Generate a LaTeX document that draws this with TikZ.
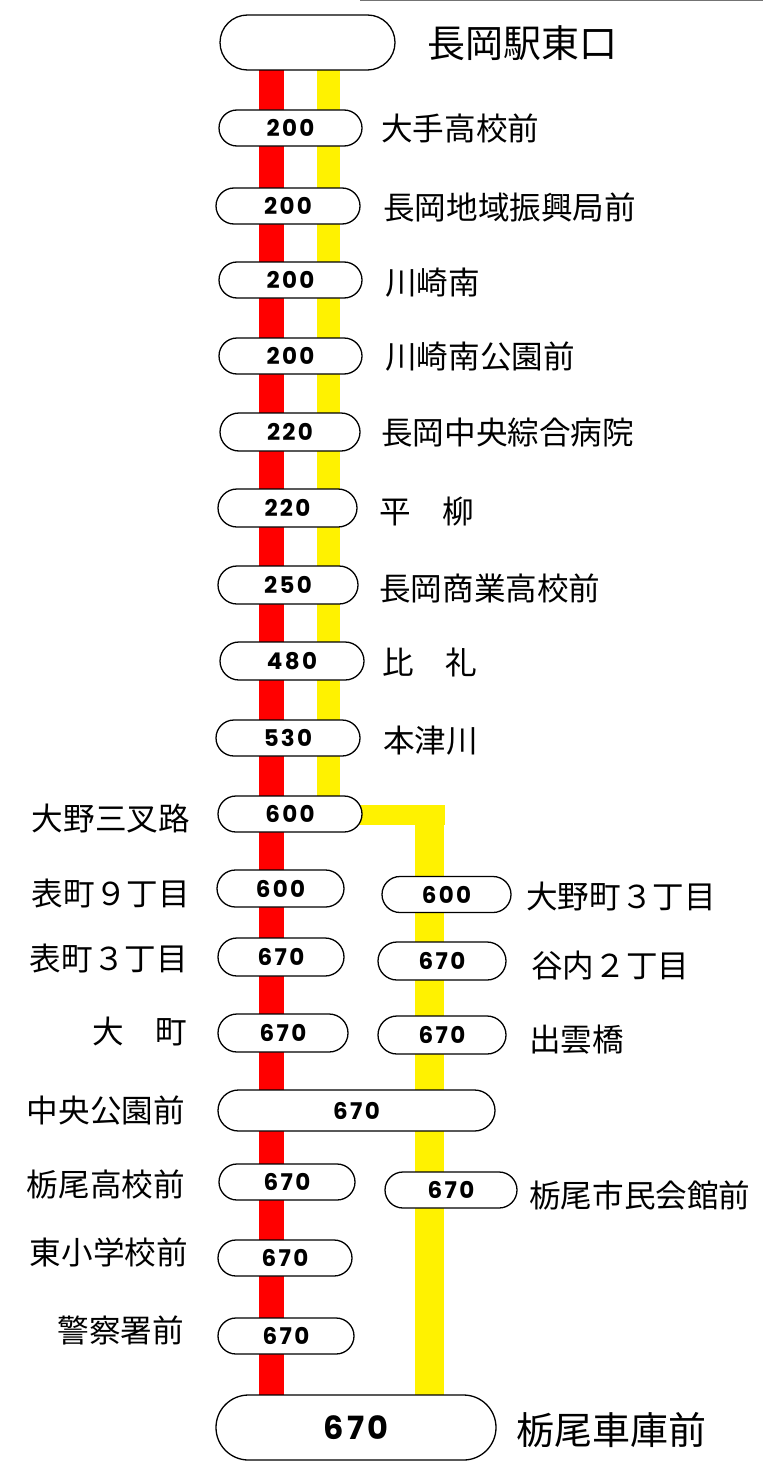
\documentclass[tikz,border=0pt]{standalone}
\usepackage{fontspec}
\setmainfont{Noto Sans CJK JP}
\newfontfamily\farefont[LetterSpace=10]{Poppins}
\usetikzlibrary{shapes.misc}
\tikzset{
	fare/.style={rounded rectangle, draw=black, line width=1.3pt, fill=white, inner sep=0pt, minimum height=36pt, font={\farefont\bfseries\fontsize{23}{23}\selectfont}},
	bigfare/.style={fare, font={\farefont\bfseries\fontsize{32}{32}\selectfont}},
	stopname/.style={inner sep=0pt, font={\fontsize{31.6}{31.6}\selectfont}},
	bigname/.style={inner sep=0pt, anchor=west, font={\fontsize{38}{38}\selectfont}},
	redline/.style={draw=red, line width=25pt},
	yellowline/.style={draw=yellow, line width=#1}
}

\begin{document}
\begin{tikzpicture}[x=1pt, y=-1pt]
			%%%%% START %%%%%
			\useasboundingbox (0, 0) rectangle (763, 1461);
			\draw[line width=1pt, color=black!55] (360, 0.5) -- (763, 0.5);
			
			% line ends
			\coordinate (rtop) at (271.5, 70);
			\coordinate (rbot) at (271.5, 1395);
			\coordinate (ytop) at (328.5, 70);
			\coordinate (yturn) at (328.5, 815);
			\coordinate (ycorner) at (444.5, 815);
			\coordinate (ybranch) at (429.5, 805);
			\coordinate (ybot) at (429.5, 1395);
			
			\draw[redline] (rtop) -- (rbot);
			\draw[yellowline=23pt] (ytop) -- (yturn);
			\draw[yellowline=20pt] (yturn) -- (ycorner);
			\draw[yellowline=29pt] (ybranch) -- (ybot);
			
			% trunk
			\node[fare, minimum width=175pt, minimum height=55pt] (eki) at (307.5, 42.5) {};
			\node[bigname] (leki) at (427, 43) {長岡駅東口};
			
			\node[fare, minimum width=143pt] (s01) at (290.5, 128) {200};
			\node[stopname, anchor=west] (l01) at (381, 128) {大手高校前};
			\node[fare, minimum width=144pt] (s02) at (288, 206) {200};
			\node[stopname, anchor=west] (l02) at (383, 207) {長岡地域振興局前};
			\node[fare, minimum width=143pt] (s03) at (290.5, 280) {200};
			\node[stopname, anchor=west] (l03) at (385, 283) {川崎南};
			\node[fare, minimum width=143pt] (s04) at (290.5, 356) {200};
			\node[stopname, anchor=west] (l04) at (385, 357) {川崎南公園前};
			\node[fare, minimum width=140pt, minimum height=38pt] (s05) at (290, 432) {220};
			\node[stopname, anchor=west] (l05) at (381, 433) {長岡中央綜合病院};
			\node[fare, minimum width=139pt, minimum height=38pt] (s06) at (287.5, 508) {220};
			\node[stopname, anchor=west] (l06) at (379, 512) {平　柳};
			\node[fare, minimum width=140pt, minimum height=38pt] (s07) at (288, 585) {250};
			\node[stopname, anchor=west] (l07) at (379, 588) {長岡商業高校前};
			\node[fare, minimum width=144pt, minimum height=38pt] (s08) at (292, 661) {480};
			\node[stopname, anchor=west] (l08) at (382, 662) {比　礼};
			\node[fare, minimum width=144pt] (s09) at (288, 738) {530};
			\node[stopname, anchor=west] (l09) at (383, 741) {本津川};
			\node[fare, minimum width=144pt] (s10) at (290, 814) {600};
			\node[stopname, anchor=east] (l10) at (190, 818) {大野三叉路};
			
			% via omachi
			\node[fare, minimum width=127pt, minimum height=37pt] (s11) at (280.5, 888.5) {600};
			\node[stopname, anchor=east] (l11) at (190, 893) {表町９丁目};
			\node[fare, minimum width=126pt, minimum height=38pt] (s12) at (281, 957) {670};
			\node[stopname, anchor=east] (l12) at (188, 958) {表町３丁目};
			\node[fare, minimum width=130pt, minimum height=38pt] (s13) at (283, 1033) {670};
			\node[stopname, anchor=east] (l13) at (187, 1031) {大　町};
			
			% via izumo
			\node[fare, minimum width=129pt] (b1) at (446.5, 894.5) {600};
			\node[stopname, anchor=west] (m1) at (526, 896) {大野町３丁目};
			\node[fare, minimum width=128pt, minimum height=38pt] (b2) at (442, 961) {670};
			\node[stopname, anchor=west] (m2) at (531, 966) {谷内２丁目};
			\node[fare, minimum width=128pt, minimum height=38pt] (b3) at (442, 1035) {670};
			\node[stopname, anchor=west] (m3) at (529, 1040) {出雲橋};
			
			\node[fare, minimum width=277pt, minimum height=41pt] (s14) at (356.5, 1110.5) {670};
			\node[stopname, anchor=east] (l14) at (185, 1110) {中央公園前};
			
			\node[fare, minimum width=136pt] (s15) at (287, 1182) {670};
			\node[stopname, anchor=east] (l15) at (185, 1184) {栃尾高校前};
			\node[fare, minimum width=132pt] (b4) at (451, 1190) {670};
			\node[stopname, anchor=west] (m4) at (529, 1195) {栃尾市民会館前};
			\node[fare, minimum width=134pt] (s16) at (285, 1258) {670};
			\node[stopname, anchor=east] (l16) at (188, 1252) {東小学校前};
			\node[fare, minimum width=136pt] (s17) at (286, 1336) {670};
			\node[stopname, anchor=east] (l17) at (184, 1330) {警察署前};
			
			\node[bigfare, minimum width=280pt, minimum height=65pt] (shako) at (356, 1427.5) {670};
			\node[bigname] (lshako) at (516, 1430) {栃尾車庫前};
			%%%%% END %%%%%
\end{tikzpicture}
\end{document}
